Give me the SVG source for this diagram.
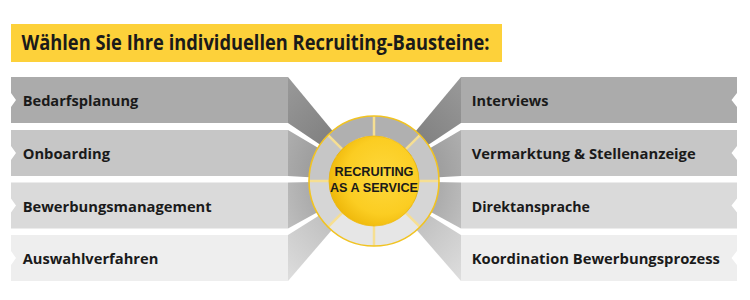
<svg xmlns="http://www.w3.org/2000/svg" width="750" height="300" viewBox="0 0 750 300">
<defs>
<style>
.t{font-family:"Open Sans","Liberation Sans",sans-serif;font-weight:700;fill:#1a1a1a}
.lbl{font-size:15px}
.title{font-size:21px}
.hub{font-family:"Liberation Sans",Arial,sans-serif;font-size:13.5px;text-anchor:middle}
.b1{fill:#ababab}.b2{fill:#c6c6c6}.b3{fill:#dadada}.b4{fill:#eeeeee}
.s1{fill:#b0b0b0}.s2{fill:#c6c6c6}.s3{fill:#d6d6d6}.s4{fill:#e6e6e6}
.div{stroke:#f6df92;stroke-width:2.5}
</style>
<radialGradient id="p1" gradientUnits="userSpaceOnUse" cx="374" cy="181" r="150"><stop offset="0.43" stop-color="#828282"/><stop offset="0.95" stop-color="#9c9c9c"/></radialGradient>
<radialGradient id="p2" gradientUnits="userSpaceOnUse" cx="374" cy="181" r="150"><stop offset="0.43" stop-color="#9e9e9e"/><stop offset="0.8" stop-color="#b8b8b8"/></radialGradient>
<radialGradient id="p3" gradientUnits="userSpaceOnUse" cx="374" cy="181" r="150"><stop offset="0.43" stop-color="#ababab"/><stop offset="0.8" stop-color="#cbcbcb"/></radialGradient>
<radialGradient id="p4" gradientUnits="userSpaceOnUse" cx="374" cy="181" r="150"><stop offset="0.43" stop-color="#c2c2c2"/><stop offset="0.95" stop-color="#e2e2e2"/></radialGradient>
<radialGradient id="yel" cx="0.6" cy="0.45" r="0.6"><stop offset="0" stop-color="#fed83c"/><stop offset="0.7" stop-color="#fbcd22"/><stop offset="1" stop-color="#efb90c"/></radialGradient>
</defs>
<rect width="750" height="300" fill="#ffffff"/>

<g id="title">
<rect x="11" y="24" width="491" height="38" fill="#fdd13a"/>
<text class="t title" x="21.5" y="50" textLength="468" lengthAdjust="spacingAndGlyphs">Wählen Sie Ihre individuellen Recruiting-Bausteine:</text>
</g>

<g id="connectors">
<polygon points="288,77 288,123 374,181" fill="url(#p1)"/>
<polygon points="288,130 288,176 374,181" fill="url(#p2)"/>
<polygon points="288,182.5 288,228.5 374,181" fill="url(#p3)"/>
<polygon points="288,235 288,281 374,181" fill="url(#p4)"/>
<polygon points="461,77 461,123 374,181" fill="url(#p1)"/>
<polygon points="461,130 461,176 374,181" fill="url(#p2)"/>
<polygon points="461,182.5 461,228.5 374,181" fill="url(#p3)"/>
<polygon points="461,235 461,281 374,181" fill="url(#p4)"/>
</g>

<g id="bedarfsplanung">
<polygon class="b1" points="11,77 288,77 288,123 11,123 11,107 16,100 11,93"/>
<text class="t lbl" x="22.7" y="106" textLength="115.6" lengthAdjust="spacingAndGlyphs">Bedarfsplanung</text>
</g>
<g id="onboarding">
<polygon class="b2" points="11,130 288,130 288,176 11,176 11,160 16,153 11,146"/>
<text class="t lbl" x="22.7" y="158.5" textLength="87.3" lengthAdjust="spacingAndGlyphs">Onboarding</text>
</g>
<g id="bewerbungsmanagement">
<polygon class="b3" points="11,182.5 288,182.5 288,228.5 11,228.5 11,212.5 16,205.5 11,198.5"/>
<text class="t lbl" x="22.7" y="211.5" textLength="189" lengthAdjust="spacingAndGlyphs">Bewerbungsmanagement</text>
</g>
<g id="auswahlverfahren">
<polygon class="b4" points="11,235 288,235 288,281 11,281 11,265 16,258 11,251"/>
<text class="t lbl" x="22.7" y="264.3" textLength="135.6" lengthAdjust="spacingAndGlyphs">Auswahlverfahren</text>
</g>

<g id="interviews">
<polygon class="b1" points="461,77 737,77 737,93 731.5,100 737,107 737,123 461,123"/>
<text class="t lbl" x="471.7" y="106" textLength="76.7" lengthAdjust="spacingAndGlyphs">Interviews</text>
</g>
<g id="vermarktung">
<polygon class="b2" points="461,130 737,130 737,146 731.5,153 737,160 737,176 461,176"/>
<text class="t lbl" x="471.7" y="158.5" textLength="224" lengthAdjust="spacingAndGlyphs">Vermarktung &amp; Stellenanzeige</text>
</g>
<g id="direktansprache">
<polygon class="b3" points="461,182.5 737,182.5 737,198.5 731.5,205.5 737,212.5 737,228.5 461,228.5"/>
<text class="t lbl" x="471.7" y="211.5" textLength="118.3" lengthAdjust="spacingAndGlyphs">Direktansprache</text>
</g>
<g id="koordination">
<polygon class="b4" points="461,235 737,235 737,251 731.5,258 737,265 737,281 461,281"/>
<text class="t lbl" x="471.7" y="264.3" textLength="248.3" lengthAdjust="spacingAndGlyphs">Koordination Bewerbungsprozess</text>
</g>

<g id="hub">
<path class="s1" d="M374,116 A65,65 0 0 0 328.04,135.04 L342.18,149.18 A45,45 0 0 1 374,136 Z"/>
<path class="s2" d="M328.04,135.04 A65,65 0 0 0 309,181 L329,181 A45,45 0 0 1 342.18,149.18 Z"/>
<path class="s3" d="M309,181 A65,65 0 0 0 328.04,226.96 L342.18,212.82 A45,45 0 0 1 329,181 Z"/>
<path class="s4" d="M328.04,226.96 A65,65 0 0 0 374,246 L374,226 A45,45 0 0 1 342.18,212.82 Z"/>
<path class="s1" d="M374,116 A65,65 0 0 1 419.96,135.04 L405.82,149.18 A45,45 0 0 0 374,136 Z"/>
<path class="s2" d="M419.96,135.04 A65,65 0 0 1 439,181 L419,181 A45,45 0 0 0 405.82,149.18 Z"/>
<path class="s3" d="M439,181 A65,65 0 0 1 419.96,226.96 L405.82,212.82 A45,45 0 0 0 419,181 Z"/>
<path class="s4" d="M419.96,226.96 A65,65 0 0 1 374,246 L374,226 A45,45 0 0 0 405.82,212.82 Z"/>
<g class="div">
<line x1="374" y1="116" x2="374" y2="136"/>
<line x1="374" y1="226" x2="374" y2="246"/>
<line x1="309" y1="181" x2="329" y2="181"/>
<line x1="419" y1="181" x2="439" y2="181"/>
<line x1="328.04" y1="135.04" x2="342.18" y2="149.18"/>
<line x1="419.96" y1="135.04" x2="405.82" y2="149.18"/>
<line x1="328.04" y1="226.96" x2="342.18" y2="212.82"/>
<line x1="419.96" y1="226.96" x2="405.82" y2="212.82"/>
</g>
<circle cx="374" cy="181" r="65" fill="none" stroke="#f1c322" stroke-width="1.6"/>
<circle cx="374" cy="181" r="45" fill="url(#yel)" stroke="#ecb70e" stroke-width="0.8"/>
<text class="t hub" x="374" y="175.5" textLength="79" lengthAdjust="spacingAndGlyphs">RECRUITING</text>
<text class="t hub" x="374" y="192" textLength="88" lengthAdjust="spacingAndGlyphs">AS A SERVICE</text>
</g>
</svg>
